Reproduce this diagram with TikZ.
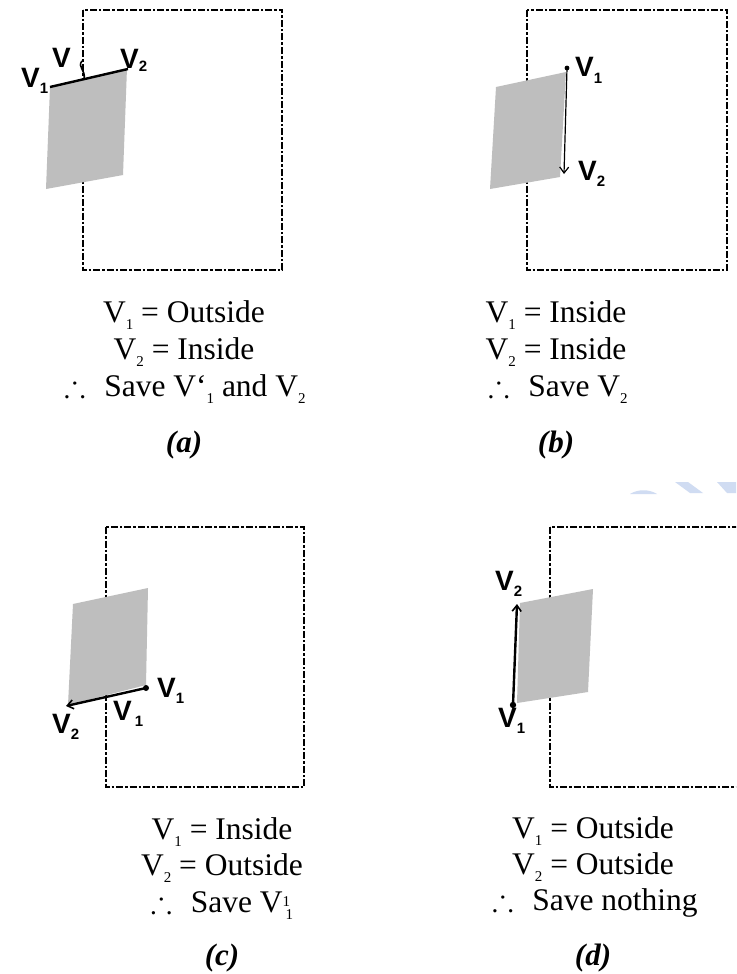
\documentclass[tikz,border=0pt]{standalone}
\usepackage{amssymb}
\usepackage{fontspec}
\setmainfont{Liberation Serif}
\newfontfamily\labfont{Liberation Sans}
\usetikzlibrary{arrows.meta}
\definecolor{shade}{RGB}{190,190,190}
\definecolor{wmblue}{RGB}{208,220,242}
\newcommand{\dn}[1]{\raisebox{-7.5pt}{\fontsize{15}{15}\selectfont #1}}
\newcommand{\ldn}[1]{\raisebox{-6pt}{\fontsize{15}{15}\selectfont #1}}
\begin{document}
\begin{tikzpicture}[x=1pt,y=-1pt,
  clipbox/.style={line width=2.5pt, dash pattern=on 7pt off 2pt on 2.5pt off 2pt},
  clipboxthin/.style={line width=2pt, dash pattern=on 7pt off 2pt on 2.5pt off 2pt},
  poly/.style={fill=shade},
  lab/.style={font=\labfont\bfseries\fontsize{28}{28}\selectfont, inner sep=0pt, anchor=base west},
  txt/.style={font=\fontsize{31.5}{37}\selectfont, inner sep=0pt, anchor=base},
  captxt/.style={font=\fontsize{31}{37}\selectfont\bfseries\itshape, inner sep=0pt, anchor=base},
  segline/.style={line width=2.4pt},
  arr/.style={-{Straight Barb[length=6pt,width=9pt,line width=1.6pt]}}]
\useasboundingbox (0,0) rectangle (736,974);
\clip (0,0) rectangle (736,974);
\fill[white] (0,0) rectangle (736,974);

% watermark fragments
\fill[wmblue] (675,482) -- (688,482) -- (703,493) -- (690,493) -- cycle;
\fill[wmblue] (717,482) -- (736,482) -- (736,493) -- (727,493) -- cycle;
\fill[wmblue] (630,494) .. controls (638,489) and (649,489) .. (657,494) -- cycle;

% ---------- (a) ----------
\draw[clipbox] (83,10) rectangle (282,270);
\fill[poly] (50,87) -- (127,68) -- (123,175) -- (46,189) -- cycle;
\coordinate (a1) at (50,87);
\coordinate (a2) at (128,69);
\draw[segline] (a1) -- (a2);
\draw[line width=1.6pt] (82,61) .. controls (77,67) and (86,70) .. (84,79);
\node[lab] (la1) at (21,87) {V\ldn{1}};
\node[lab] (la2) at (120,68) {V\raisebox{-3pt}{\fontsize{15}{15}\selectfont 2}};
\node[lab] (lap) at (52,67) {V};
\node[txt] (ta1) at (184,322) {V\dn{1} = Outside};
\node[txt] (ta2) at (184,359) {V\dn{2} = Inside};
\node[txt] (ta3) at (185,396) {$\therefore$\hspace{0.35em} Save V{\char"0060}\dn{1} and V\dn{2}};
\node[captxt] (ca) at (184,452) {(a)};

% ---------- (b) ----------
\draw[clipbox] (527,10) rectangle (727,270);
\fill[poly] (496,87) -- (566,72) -- (560,177) -- (490,189) -- cycle;
\coordinate (b1) at (567,68);
\coordinate (b2) at (564,174);
\draw[line width=1.2pt, -{Straight Barb[length=6pt,width=9pt,line width=1.2pt]}] (b1) -- (b2);
\fill (b1) circle (2.4pt);
\node[lab] (lb1) at (575,77) {V\ldn{1}};
\node[lab] (lb2) at (578,180) {V\ldn{2}};
\node[txt] (tb1) at (556,322) {V\dn{1} = Inside};
\node[txt] (tb2) at (556,359) {V\dn{2} = Inside};
\node[txt] (tb3) at (558,396) {$\therefore$\hspace{0.35em} Save V\dn{2}};
\node[captxt] (cb) at (556,452) {(b)};

% ---------- (c) ----------
\draw[clipboxthin] (106,527) rectangle (304,787);
\fill[poly] (73,604) -- (148,588) -- (146,685) -- (68,705) -- cycle;
\coordinate (c1) at (146,688);
\coordinate (c2) at (66,706);
\draw[segline, arr] (c1) -- (c2);
\fill (c1) circle (3pt);
\node[lab] (lc1) at (157,697) {V\ldn{1}};
\node[lab] (lcp) at (113,720) {V\hspace{3pt}\ldn{1}};
\node[lab] (lc2) at (52,733) {V\ldn{2}};
\node[txt] (tc1) at (222,839) {V\dn{1} = Inside};
\node[txt] (tc2) at (222,875) {V\dn{2} = Outside};
\node[txt] (tc3) at (222,912) {$\therefore$\hspace{0.35em} Save V\rlap{\raisebox{6pt}{\fontsize{15}{15}\selectfont 1}}\hspace{3pt}\dn{1}};
\node[captxt] (cc) at (222,965) {(c)};

% ---------- (d) ----------
\draw[clipboxthin] (550,527) rectangle (749,787);
\fill[poly] (520,603) -- (593,589) -- (588,692) -- (517,703) -- cycle;
\coordinate (d1) at (513,705);
\coordinate (d2) at (517,604);
\draw[segline, arr] (d1) -- (d2);
\fill (d1) circle (3.2pt);
\node[lab] (ld2) at (495,590) {V\ldn{2}};
\node[lab] (ld1) at (498,727) {V\ldn{1}};
\node[txt] (td1) at (593,838) {V\dn{1} = Outside};
\node[txt] (td2) at (593,874) {V\dn{2} = Outside};
\node[txt] (td3) at (595,910) {$\therefore$\hspace{0.35em} Save nothing};
\node[captxt] (cd) at (593,965) {(d)};
\end{tikzpicture}
\end{document}
